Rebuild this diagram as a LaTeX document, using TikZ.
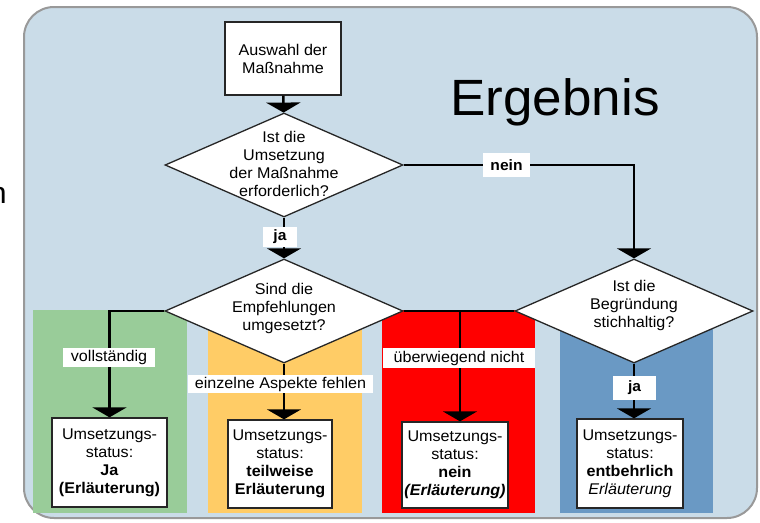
\documentclass[tikz,border=0pt]{standalone}
\usepackage{fontspec}
\setmainfont{Liberation Sans}[FakeStretch=1.04]
\usetikzlibrary{shapes.geometric,arrows.meta}
\definecolor{panelblue}{HTML}{CADCE8}
\definecolor{colgreen}{HTML}{99CC99}
\definecolor{colorange}{HTML}{FFCC66}
\definecolor{colred}{HTML}{FF0000}
\definecolor{colsteel}{HTML}{6A99C4}
\begin{document}
\begin{tikzpicture}[x=1pt,y=-1pt,
  txt/.style={font=\fontsize{15.5}{18}\selectfont, align=center},
  boxnode/.style={draw=black!85, line width=1.3pt, fill=white, minimum width=#1, inner sep=0pt, txt},
  dia/.style={draw=black!85, line width=1.3pt, fill=white, diamond, minimum width=238pt, minimum height=104pt, inner sep=0pt},
  lbl/.style={fill=white, inner sep=0pt, txt},
  conn/.style={line width=2.6pt, draw=black},
  arr/.style={conn, -{Triangle[width=34pt,length=10pt]}}
]
\useasboundingbox (0,0) rectangle (760,522);
\fill[white] (0,0) rectangle (760,522);
% slide fragment
\node[anchor=base east, inner sep=0pt, font=\fontsize{30}{30}\selectfont] (frag) at (7,203) {n};
% panel
\draw[draw=black!40, line width=2pt, fill=panelblue, rounded corners=30pt] (24,7) rectangle (757,518);
% columns
\fill[colgreen] (33,310) rectangle (187,513);
\fill[colorange] (208,310) rectangle (362,513);
\fill[colred] (382,310) rectangle (535,513);
\fill[colsteel] (560,310) rectangle (713,513);
% title
\node[anchor=base, inner sep=0pt, font=\fontsize{51}{51}\selectfont] (title) at (555,115) {Ergebnis};
% nodes
\node[boxnode=116pt, minimum height=73pt] (start) at (283,58.5) {Auswahl der\\Maßnahme};
\node[dia] (d1) at (284,165) {};
\node[txt] (d1t) at (284,164) {Ist die\\Umsetzung\\der Maßnahme\\erforderlich?};
\node[dia] (d2) at (284,311) {};
\node[txt] (d2t) at (284,308) {Sind die\\Empfehlungen\\umgesetzt?};
\node[dia] (d3) at (634,311) {};
\node[txt] (d3t) at (634,305) {Ist die\\Begründung\\stichhaltig?};
\node[boxnode=115pt, minimum height=89pt] (bja) at (109.5,462.5) {Umsetzungs-\\status:\\\textbf{Ja}\\\textbf{(Erläuterung)}};
\node[boxnode=104pt, minimum height=88pt] (bteil) at (280,464) {Umsetzungs-\\status:\\\textbf{teilweise}\\\textbf{Erläuterung}};
\node[boxnode=106pt, minimum height=86pt] (bnein) at (455,465) {Umsetzungs-\\status:\\\textbf{nein}\\\textbf{\itshape(Erläuterung)}};
\node[boxnode=106pt, minimum height=89pt] (bent) at (630,463.5) {Umsetzungs-\\status:\\\textbf{entbehrlich}\\\textit{Erläuterung}};
\coordinate (jn) at (460,311);
% connectors
\draw[arr] (start) -- (d1);
\draw[arr] (d1) -- (d2);
\draw[arr] (d1.east) -| (d3.north);
\draw[arr] (d2.west) -| (bja.north);
\draw[arr] (d2.south) -- (d2.south |- bteil.north);
\draw[conn] (d2.east) -- (d3.west);
\draw[arr] (jn) -- (jn |- bnein.north);
\draw[arr] (d3.south) -- (d3.south |- bent.north);
% labels
\node[lbl, minimum width=34pt, minimum height=20pt, font=\fontsize{15}{18}\selectfont\bfseries] (lja1) at (280,237) {ja};
\node[lbl, minimum width=47pt, minimum height=24pt, font=\fontsize{15}{18}\selectfont\bfseries] (lnein) at (506.5,165) {nein};
\node[lbl, minimum width=92pt, minimum height=19pt] (lvoll) at (109,357.5) {vollständig};
\node[lbl, minimum width=185pt, minimum height=18pt] (leinz) at (280.5,384) {einzelne Aspekte fehlen};
\node[lbl, minimum width=152pt, minimum height=20pt] (luew) at (459,358) {überwiegend nicht};
\node[lbl, minimum width=43pt, minimum height=24pt, font=\fontsize{15}{18}\selectfont\bfseries] (lja2) at (634.5,388) {ja};
\end{tikzpicture}
\end{document}
